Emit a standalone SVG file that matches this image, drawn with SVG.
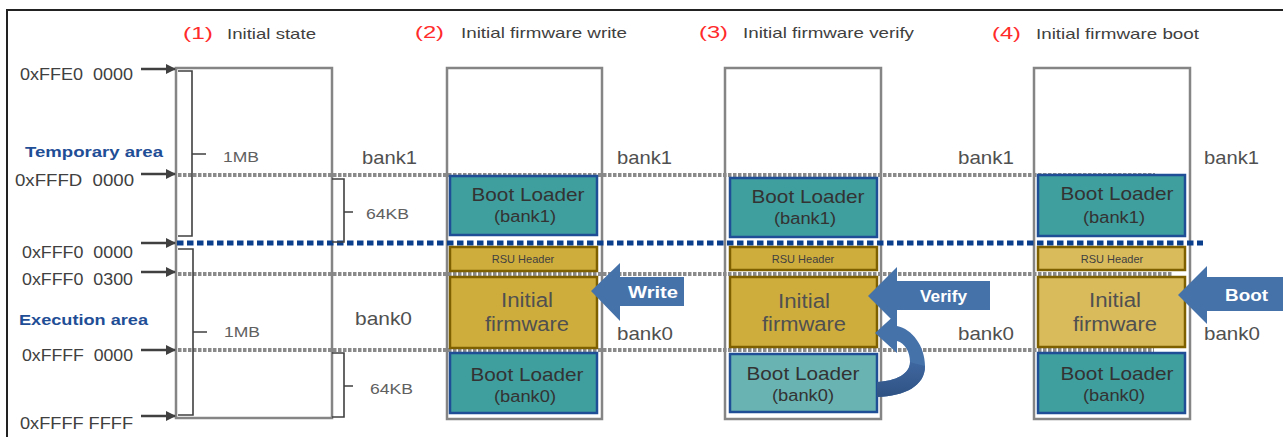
<svg xmlns="http://www.w3.org/2000/svg" width="1283" height="437" viewBox="0 0 1283 437">
<defs>
<style>
text{font-family:"Liberation Sans","DejaVu Sans",sans-serif;}
.addr{font-size:16px;fill:#404040;white-space:pre;}
.num{font-size:17px;fill:#ff2a2a;}
.ttl{font-size:15px;fill:#404040;}
.area{font-size:15px;font-weight:bold;fill:#1f4e96;}
.sz{font-size:15px;fill:#606060;}
.bank{font-size:19px;fill:#505050;}
.bl{font-size:19px;fill:#333;text-anchor:middle;}
.blsub{font-size:16px;fill:#333;text-anchor:middle;}
.rsu{font-size:11px;fill:#404040;text-anchor:middle;}
.fw{font-size:20px;fill:#505050;text-anchor:middle;}
.arrtxt{font-size:17px;fill:#fff;font-weight:bold;}
.mem{fill:#fff;stroke:#858585;stroke-width:2.5;}
.teal{fill:#3f9e9e;stroke:#1f4e96;stroke-width:2.5;}
.teal2{fill:#69b3b3;stroke:#1f4e96;stroke-width:2.5;}
.gold{fill:#cfad3c;stroke:#7f6000;stroke-width:2.5;}
.gold2{fill:#d9bb5c;stroke:#7f6000;stroke-width:2.5;}
.gdot{stroke:#8a8a8a;stroke-width:4;stroke-dasharray:3.5 1.5;fill:none;}
.bdot{stroke:#0b3f8c;stroke-width:5;stroke-dasharray:6.5 3.5;fill:none;}
.brace{stroke:#404040;stroke-width:1.6;fill:none;}
.ptr{stroke:#404040;stroke-width:2.5;fill:none;marker-end:url(#ah);}
.big{fill:#4672aa;}
</style>
<marker id="ah" markerWidth="10" markerHeight="10" refX="9" refY="5" orient="auto" markerUnits="userSpaceOnUse">
<path d="M0,0 L10,5 L0,10 Z" fill="#404040"/>
</marker>
<linearGradient id="dk" x1="0" y1="0" x2="0" y2="1">
<stop offset="0" stop-color="#3f67a0"/>
<stop offset="1" stop-color="#2f5283"/>
</linearGradient>
</defs>

<rect x="7" y="10" width="1290" height="440" fill="#fff" stroke="#222" stroke-width="2"/>

<g id="titles">
<text class="num" x="183" y="39" textLength="30" lengthAdjust="spacingAndGlyphs">(1)</text>
<text class="ttl" x="227" y="39" textLength="89" lengthAdjust="spacingAndGlyphs">Initial state</text>
<text class="num" x="415" y="38" textLength="29" lengthAdjust="spacingAndGlyphs">(2)</text>
<text class="ttl" x="461" y="38" textLength="166" lengthAdjust="spacingAndGlyphs">Initial firmware write</text>
<text class="num" x="699" y="38" textLength="29" lengthAdjust="spacingAndGlyphs">(3)</text>
<text class="ttl" x="743" y="38" textLength="171" lengthAdjust="spacingAndGlyphs">Initial firmware verify</text>
<text class="num" x="992" y="39" textLength="29" lengthAdjust="spacingAndGlyphs">(4)</text>
<text class="ttl" x="1036" y="39" textLength="163" lengthAdjust="spacingAndGlyphs">Initial firmware boot</text>
</g>

<g id="mem1"><rect class="mem" x="176" y="68" width="156" height="350"/></g>
<g id="mem2"><rect class="mem" x="447" y="68" width="155" height="351"/></g>
<g id="mem3"><rect class="mem" x="725" y="68" width="156" height="351"/></g>
<g id="mem4"><rect class="mem" x="1034" y="68" width="156" height="351"/></g>

<g id="connectors">
<line class="gdot" x1="178" y1="175" x2="1155" y2="175"/>
<line class="gdot" x1="178" y1="274" x2="1172" y2="274"/>
<line class="gdot" x1="178" y1="350" x2="1154" y2="350"/>
<line class="bdot" x1="177" y1="243" x2="1203" y2="243"/>
<line class="ptr" x1="141" y1="69" x2="175" y2="69"/>
<line class="ptr" x1="141" y1="174" x2="175" y2="174"/>
<line class="ptr" x1="141" y1="243" x2="175" y2="243"/>
<line class="ptr" x1="141" y1="272" x2="175" y2="272"/>
<line class="ptr" x1="141" y1="350" x2="175" y2="350"/>
<line class="ptr" x1="141" y1="416" x2="175" y2="416"/>
<path class="brace" d="M178 71 H192 V236 H178 M192 154 H206"/>
<path class="brace" d="M178 249 H193 V415 H178 M193 332 H207"/>
<path class="brace" d="M332 179 H344 V242 H332 M344 212 H353"/>
<path class="brace" d="M332 353 H344 V417 H332 M344 386 H353"/>
</g>

<g id="addresses">
<text class="addr" x="20" y="80" textLength="113" lengthAdjust="spacingAndGlyphs">0xFFE0  0000</text>
<text class="addr" x="15" y="186" textLength="119" lengthAdjust="spacingAndGlyphs">0xFFFD  0000</text>
<text class="addr" x="22" y="258" textLength="111" lengthAdjust="spacingAndGlyphs">0xFFF0  0000</text>
<text class="addr" x="22" y="285" textLength="111" lengthAdjust="spacingAndGlyphs">0xFFF0  0300</text>
<text class="addr" x="22" y="361" textLength="111" lengthAdjust="spacingAndGlyphs">0xFFFF  0000</text>
<text class="addr" x="20" y="429" textLength="113" lengthAdjust="spacingAndGlyphs">0xFFFF FFFF</text>
<text class="area" x="25" y="157" textLength="138" lengthAdjust="spacingAndGlyphs">Temporary area</text>
<text class="area" x="19" y="325" textLength="129" lengthAdjust="spacingAndGlyphs">Execution area</text>
<text class="sz" x="223" y="162" textLength="36" lengthAdjust="spacingAndGlyphs">1MB</text>
<text class="sz" x="224" y="337" textLength="36" lengthAdjust="spacingAndGlyphs">1MB</text>
<text class="sz" x="366" y="219" textLength="43" lengthAdjust="spacingAndGlyphs">64KB</text>
<text class="sz" x="370" y="394" textLength="43" lengthAdjust="spacingAndGlyphs">64KB</text>
</g>

<g id="banks">
<text class="bank" x="362" y="164" textLength="55" lengthAdjust="spacingAndGlyphs">bank1</text>
<text class="bank" x="355" y="325" textLength="57" lengthAdjust="spacingAndGlyphs">bank0</text>
<text class="bank" x="617" y="164" textLength="55" lengthAdjust="spacingAndGlyphs">bank1</text>
<text class="bank" x="617" y="340" textLength="56" lengthAdjust="spacingAndGlyphs">bank0</text>
<text class="bank" x="958" y="164" textLength="56" lengthAdjust="spacingAndGlyphs">bank1</text>
<text class="bank" x="958" y="340" textLength="56" lengthAdjust="spacingAndGlyphs">bank0</text>
<text class="bank" x="1204" y="164" textLength="55" lengthAdjust="spacingAndGlyphs">bank1</text>
<text class="bank" x="1204" y="340" textLength="56" lengthAdjust="spacingAndGlyphs">bank0</text>
</g>

<g id="s2-bl1"><rect class="teal" x="450" y="176" width="147" height="59"/>
<text class="bl" x="528" y="201" textLength="113" lengthAdjust="spacingAndGlyphs">Boot Loader</text>
<text class="blsub" x="525" y="222" textLength="62" lengthAdjust="spacingAndGlyphs">(bank1)</text></g>
<g id="s2-rsu"><rect class="gold" x="450" y="247" width="147" height="24"/>
<text class="rsu" x="523" y="263">RSU Header</text></g>
<g id="s2-fw"><rect class="gold" x="450" y="277" width="147" height="71"/>
<text class="fw" x="527" y="307" textLength="52" lengthAdjust="spacingAndGlyphs">Initial</text>
<text class="fw" x="527" y="331" textLength="84" lengthAdjust="spacingAndGlyphs">firmware</text></g>
<g id="s2-bl0"><rect class="teal" x="450" y="353" width="147" height="60"/>
<text class="bl" x="527" y="381" textLength="113" lengthAdjust="spacingAndGlyphs">Boot Loader</text>
<text class="blsub" x="525" y="402" textLength="62" lengthAdjust="spacingAndGlyphs">(bank0)</text></g>

<g id="s3-bl1"><rect class="teal" x="730" y="178" width="147" height="59"/>
<text class="bl" x="808" y="203" textLength="113" lengthAdjust="spacingAndGlyphs">Boot Loader</text>
<text class="blsub" x="805" y="224" textLength="62" lengthAdjust="spacingAndGlyphs">(bank1)</text></g>
<g id="s3-rsu"><rect class="gold" x="730" y="247" width="147" height="23"/>
<text class="rsu" x="803" y="263">RSU Header</text></g>
<g id="s3-fw"><rect class="gold" x="730" y="277" width="147" height="70"/>
<text class="fw" x="804" y="308" textLength="52" lengthAdjust="spacingAndGlyphs">Initial</text>
<text class="fw" x="804" y="331" textLength="84" lengthAdjust="spacingAndGlyphs">firmware</text></g>
<g id="s3-bl0"><rect class="teal2" x="730" y="354" width="147" height="58"/>
<text class="bl" x="803" y="380" textLength="113" lengthAdjust="spacingAndGlyphs">Boot Loader</text>
<text class="blsub" x="803" y="401" textLength="62" lengthAdjust="spacingAndGlyphs">(bank0)</text></g>

<g id="s4-bl1"><rect class="teal" x="1038" y="175" width="147" height="61"/>
<text class="bl" x="1117" y="200" textLength="113" lengthAdjust="spacingAndGlyphs">Boot Loader</text>
<text class="blsub" x="1114" y="223" textLength="62" lengthAdjust="spacingAndGlyphs">(bank1)</text></g>
<g id="s4-rsu"><rect class="gold2" x="1038" y="247" width="147" height="23"/>
<text class="rsu" x="1112" y="263">RSU Header</text></g>
<g id="s4-fw"><rect class="gold2" x="1038" y="277" width="147" height="70"/>
<text class="fw" x="1115" y="307" textLength="52" lengthAdjust="spacingAndGlyphs">Initial</text>
<text class="fw" x="1115" y="331" textLength="84" lengthAdjust="spacingAndGlyphs">firmware</text></g>
<g id="s4-bl0"><rect class="teal" x="1038" y="353" width="147" height="60"/>
<text class="bl" x="1117" y="380" textLength="113" lengthAdjust="spacingAndGlyphs">Boot Loader</text>
<text class="blsub" x="1114" y="401" textLength="62" lengthAdjust="spacingAndGlyphs">(bank0)</text></g>

<g id="arrow-write">
<path class="big" d="M591 291 L620 263 L620 277 L684 277 L684 306 L620 306 L620 321 Z"/>
<text class="arrtxt" x="628" y="298" textLength="50" lengthAdjust="spacingAndGlyphs">Write</text>
</g>
<g id="arrow-verify">
<path class="big" d="M868 296 L897 267 L897 281 L990 281 L990 310 L897 310 L897 325 Z"/>
<text class="arrtxt" x="920" y="302" textLength="47" lengthAdjust="spacingAndGlyphs">Verify</text>
</g>
<g id="arrow-boot">
<path class="big" d="M1178 295 L1207 266 L1207 277 L1290 277 L1290 311 L1207 311 L1207 324 Z"/>
<text class="arrtxt" x="1225" y="301" textLength="43" lengthAdjust="spacingAndGlyphs">Boot</text>
</g>
<g id="arrow-curve">
<path class="big" d="M877 397 C905 396 925 386 925 366 C925 346 912 329 897 326 L897 313 L875 333 L897 353 L897 341 C905 343 910 352 910 362 C910 374 896 381 877 382 Z"/>
<path fill="url(#dk)" d="M877 397 C905 396 925 386 925 366 L910 362 C910 374 896 381 877 382 Z"/>
</g>
</svg>
